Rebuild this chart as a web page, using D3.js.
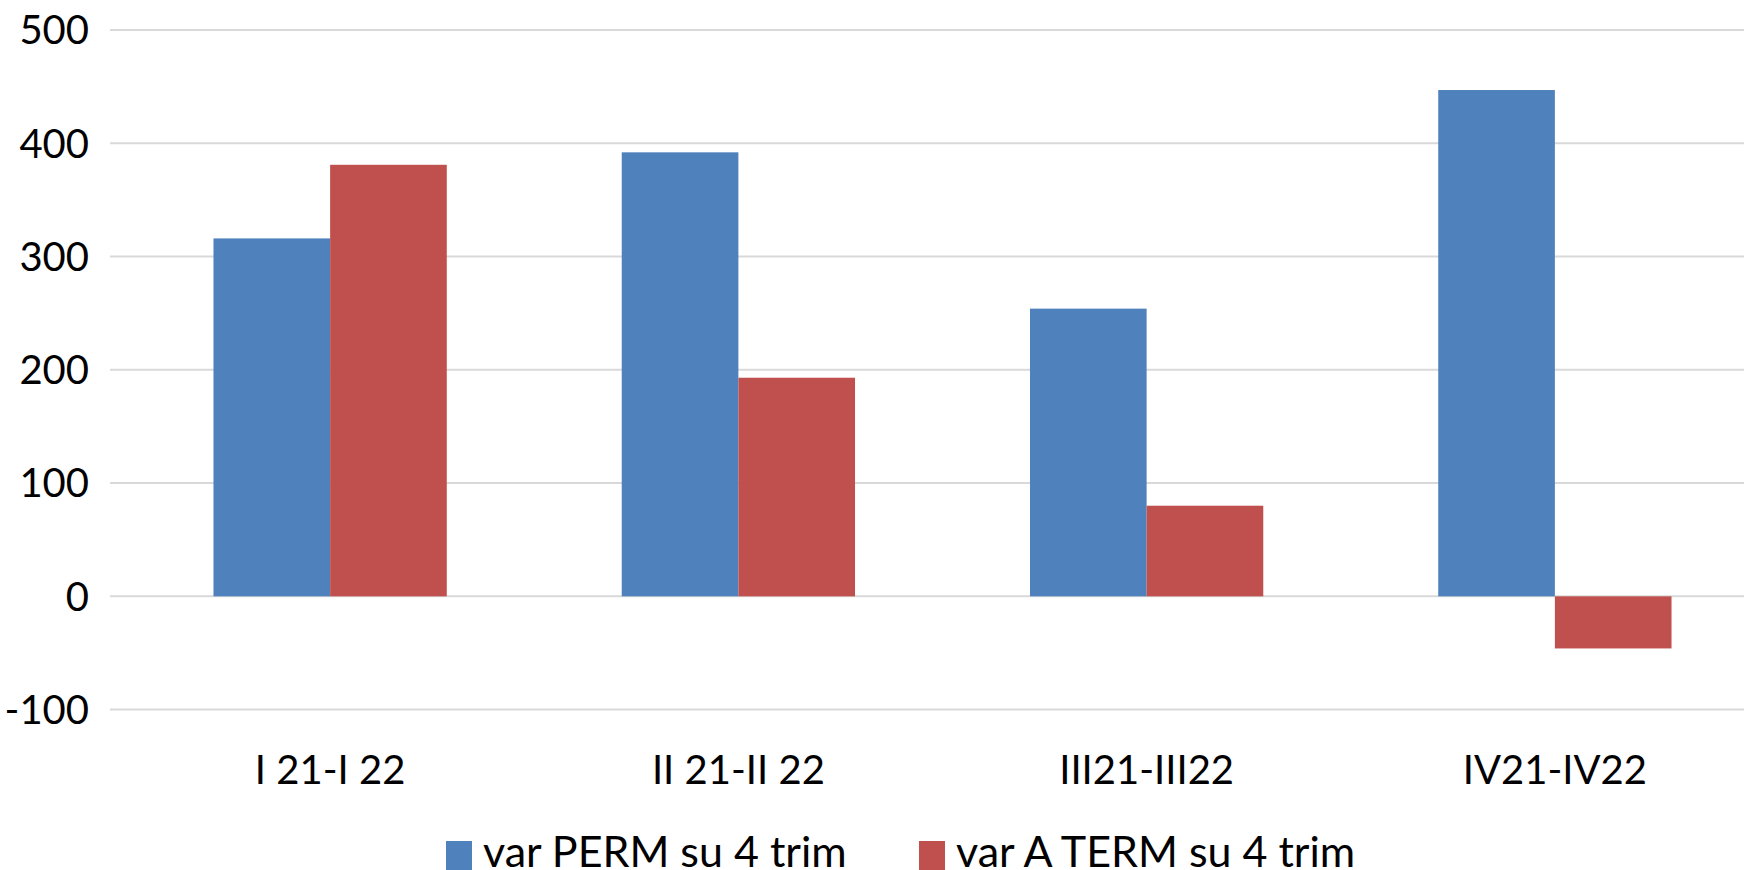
<!DOCTYPE html>
<html>
<head>
<meta charset="utf-8">
<script src="https://cdn.jsdelivr.net/npm/d3@7"></script>
<style>
  html, body { margin: 0; padding: 0; background: #fff; }
  svg { display: block; }
  text { font-family: Lato, "Open Sans", sans-serif; fill: #000; }
</style>
</head>
<body>
<svg id="chart" width="1744" height="870"></svg>
<script>
// Quarter-on-quarter comparisons
const categories = ["I 21-I 22", "II 21-II 22", "III21-III22", "IV21-IV22"];
const seriesNames = ["var PERM su 4 trim", "var A TERM su 4 trim"];
const permValues = [316, 392, 254, 447];
const termValues = [381, 193, 80, -46];
const yTicks = [-100, 0, 100, 200, 300, 400, 500];
const colors = ["#4F81BD", "#C0504D"];

const svg = d3.select("#chart");
const W = 1744, H = 870;
const plot = { left: 126, right: 1759, top: 30, bottom: 709.6 };

const y = d3.scaleLinear().domain([-100, 500]).range([plot.bottom, plot.top]);

// gap width of 150% between clusters
const x0 = d3.scaleBand()
  .domain(categories)
  .range([plot.left, plot.right])
  .paddingInner(1.5 / 3.5)
  .paddingOuter(0.75 / 3.5);
const x1 = d3.scaleBand().domain(seriesNames).range([0, x0.bandwidth()]).padding(0);

// horizontal gridlines
svg.append("g")
  .selectAll("line")
  .data(yTicks)
  .join("line")
  .attr("x1", plot.left - 16)
  .attr("x2", W)
  .attr("y1", d => y(d))
  .attr("y2", d => y(d))
  .attr("stroke", "#D9D9D9")
  .attr("stroke-width", 2);

// y tick labels
svg.append("g")
  .selectAll("text")
  .data(yTicks)
  .join("text")
  .attr("x", 89)
  .attr("y", d => y(d))
  .attr("dy", "0.36em")
  .attr("text-anchor", "end")
  .style("font-size", "40px")
  .text(d => d);

// bars
const rows = categories.map((c, i) => ({ cat: c, vals: [permValues[i], termValues[i]] }));
const groups = svg.append("g")
  .selectAll("g")
  .data(rows)
  .join("g")
  .attr("transform", d => `translate(${x0(d.cat)},0)`);

groups.selectAll("rect")
  .data(d => d.vals.map((v, k) => ({ v, k })))
  .join("rect")
  .attr("x", d => x1(seriesNames[d.k]))
  .attr("width", x1.bandwidth())
  .attr("y", d => y(Math.max(0, d.v)))
  .attr("height", d => Math.abs(y(d.v) - y(0)))
  .attr("fill", d => colors[d.k]);

// category labels
svg.append("g")
  .selectAll("text")
  .data(categories)
  .join("text")
  .attr("x", d => x0(d) + x0.bandwidth() / 2)
  .attr("y", 784)
  .attr("text-anchor", "middle")
  .style("font-size", "40px")
  .text(d => d);

// legend
const legendX = [446, 919];
const legend = svg.append("g")
  .selectAll("g")
  .data(seriesNames)
  .join("g")
  .attr("transform", (d, i) => `translate(${legendX[i]},0)`);
legend.append("rect")
  .attr("x", 0).attr("y", 841)
  .attr("width", 26).attr("height", 29)
  .attr("fill", (d, i) => colors[i]);
legend.append("text")
  .attr("x", 37).attr("y", 867)
  .style("font-size", "43px")
  .text(d => d);
</script>
</body>
</html>
